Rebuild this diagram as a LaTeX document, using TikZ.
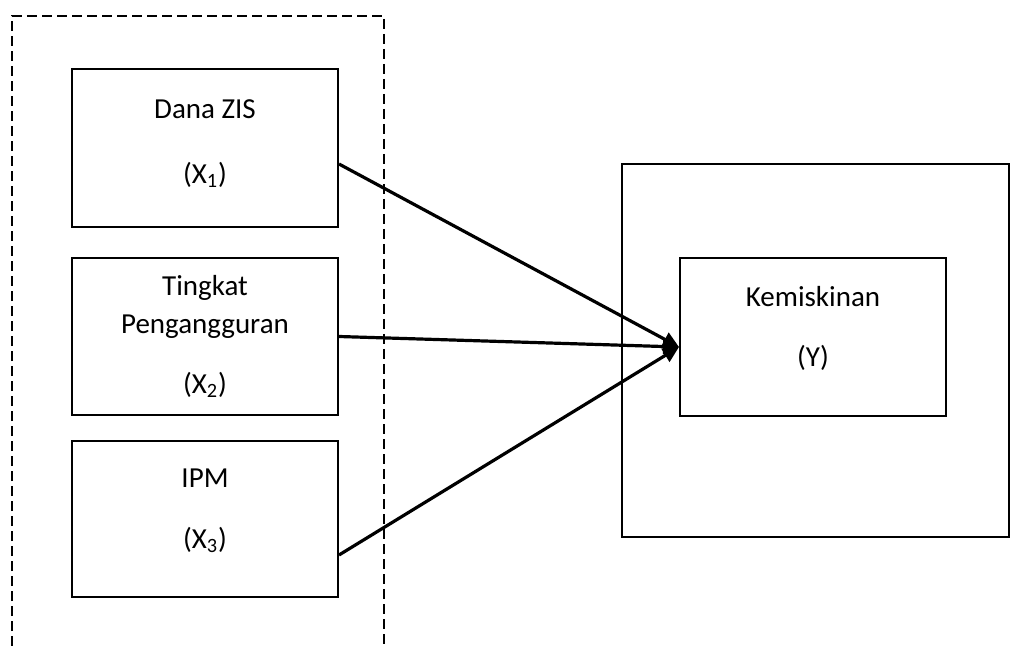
\documentclass[tikz,border=0pt]{standalone}
\usepackage{fontspec}
\setmainfont{Carlito}
\usetikzlibrary{arrows.meta}
\begin{document}
\begin{tikzpicture}[x=0.5pt, y=-0.5pt,
    var/.style={draw, line width=1pt, minimum width=133pt, minimum height=79pt,
      align=center, font=\fontsize{14.5}{17.4}\selectfont},
    link/.style={line width=1.6pt, -{Triangle[length=8pt, width=7.5pt]}}]
  \useasboundingbox (0,0) rectangle (1010,646);
  \draw[dash pattern=on 5pt off 2.5pt, line width=0.75pt] (12,646) |- (384,16) -- (384,646);
  \draw[line width=0.75pt] (1009,164) -| (622,537) -- (1009,537) -- cycle;
  \node[var] (zis) at (205,148) {Dana ZIS\\[15.1pt](X\textsubscript{1})\\[-11pt]\mbox{}};
  \node[var, minimum height=78.5pt] (tpt) at (205,336.5) {Tingkat\\[1.6pt]Pengangguran\\[12.6pt](X\textsubscript{2})};
  \node[var, minimum height=78pt] (ipm) at (205,519) {IPM\\[13.1pt](X\textsubscript{3})\\[-7pt]\mbox{}};
  \node[var] (kem) at (813,337) {Kemiskinan\\[12.6pt](Y)\\[-7pt]\mbox{}};
  \coordinate (tip) at ([yshift=-5pt]kem.west);
  \draw[link] ([yshift=-8pt]zis.east) -- (tip);
  \draw[link] (tpt.east) -- (tip);
  \draw[link] ([yshift=-18pt]ipm.east) -- (tip);
\end{tikzpicture}
\end{document}
